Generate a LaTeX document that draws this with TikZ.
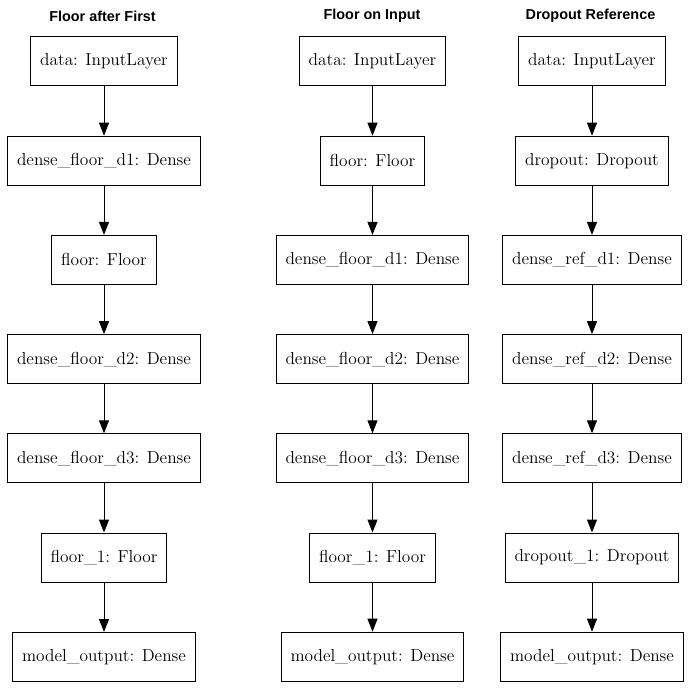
\documentclass[tikz,border=0pt]{standalone}
\usepackage{fontspec}
\newfontfamily\titlefont{Liberation Sans}
\usetikzlibrary{arrows.meta}

\begin{document}
\begin{tikzpicture}[x=0.75pt,y=0.75pt]
 	\tikzstyle{layer}=[draw, black, line width=0.75pt, inner xsep=7pt, inner ysep=0pt, minimum height=36.75pt, font=\rmfamily\fontsize{13pt}{15pt}\selectfont]
 	\tikzstyle{heading}=[inner sep=0pt, font=\titlefont\bfseries\fontsize{10.8pt}{12pt}\selectfont]
 	\tikzstyle{flow}=[black, line width=0.75pt, -{Triangle[length=9.75pt,width=7.5pt]}]
 	\useasboundingbox (0,0) rectangle (688,-688);
 	% Floor after First
 	\node [heading] (t1) at (102.5,-16) {Floor after First};
 	\node [layer] (a1) at (104,-61.5) {data: InputLayer};
 	\node [layer] (a2) at (104,-160.7) {dense\_floor\_d1: Dense};
 	\node [layer] (a3) at (104,-259.9) {floor: Floor};
 	\node [layer] (a4) at (104,-359.1) {dense\_floor\_d2: Dense};
 	\node [layer] (a5) at (104,-458.3) {dense\_floor\_d3: Dense};
 	\node [layer] (a6) at (104,-557.5) {floor\_1: Floor};
 	\node [layer] (a7) at (104,-657) {model\_output: Dense};
 	\draw [flow] (a1) -- (a2);
 	\draw [flow] (a2) -- (a3);
 	\draw [flow] (a3) -- (a4);
 	\draw [flow] (a4) -- (a5);
 	\draw [flow] (a5) -- (a6);
 	\draw [flow] (a6) -- (a7);
 	% Floor on Input
 	\node [heading] (t2) at (372,-16) {Floor on Input};
 	\node [layer] (b1) at (372.5,-61.5) {data: InputLayer};
 	\node [layer] (b2) at (372.5,-160.7) {floor: Floor};
 	\node [layer] (b3) at (372.5,-259.9) {dense\_floor\_d1: Dense};
 	\node [layer] (b4) at (372.5,-359.1) {dense\_floor\_d2: Dense};
 	\node [layer] (b5) at (372.5,-458.3) {dense\_floor\_d3: Dense};
 	\node [layer] (b6) at (372.5,-557.5) {floor\_1: Floor};
 	\node [layer] (b7) at (372.5,-656.7) {model\_output: Dense};
 	\draw [flow] (b1) -- (b2);
 	\draw [flow] (b2) -- (b3);
 	\draw [flow] (b3) -- (b4);
 	\draw [flow] (b4) -- (b5);
 	\draw [flow] (b5) -- (b6);
 	\draw [flow] (b6) -- (b7);
 	% Dropout Reference
 	\node [heading] (t3) at (590.5,-16) {Dropout Reference};
 	\node [layer] (c1) at (592,-61.5) {data: InputLayer};
 	\node [layer] (c2) at (592,-160.7) {dropout: Dropout};
 	\node [layer] (c3) at (592,-259.9) {dense\_ref\_d1: Dense};
 	\node [layer] (c4) at (592,-359.1) {dense\_ref\_d2: Dense};
 	\node [layer] (c5) at (592,-458.3) {dense\_ref\_d3: Dense};
 	\node [layer] (c6) at (592,-557.5) {dropout\_1: Dropout};
 	\node [layer] (c7) at (592,-656.7) {model\_output: Dense};
 	\draw [flow] (c1) -- (c2);
 	\draw [flow] (c2) -- (c3);
 	\draw [flow] (c3) -- (c4);
 	\draw [flow] (c4) -- (c5);
 	\draw [flow] (c5) -- (c6);
 	\draw [flow] (c6) -- (c7);
\end{tikzpicture}
\end{document}
